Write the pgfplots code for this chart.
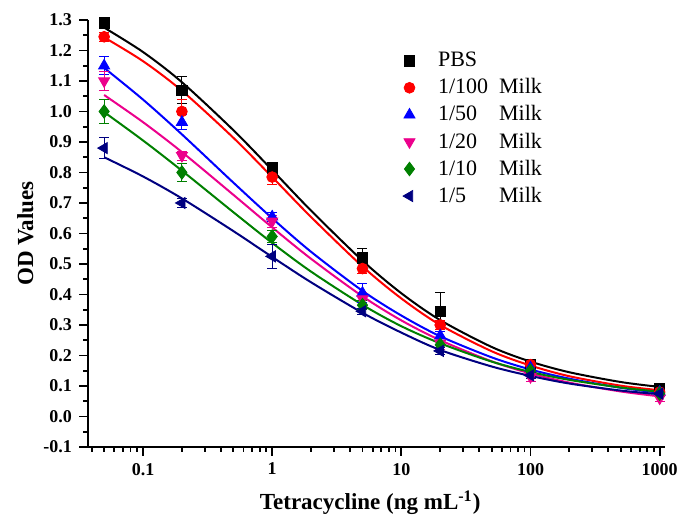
\documentclass[border=0pt]{standalone}
\usepackage{pgfplots}
\pgfplotsset{compat=1.18}
\usepackage{fontspec}
\setmainfont{Liberation Serif}
\definecolor{cgreen}{RGB}{0,128,0}
\definecolor{cnavy}{RGB}{0,0,128}
\begin{document}
\begin{tikzpicture}
\useasboundingbox (-44pt,-37.5pt) rectangle (296pt,223.5pt);
\begin{axis}[
  at={(0,0)}, anchor=south west,
  scale only axis,
  width=288.5pt, height=213.5pt,
  xmode=log,
  xmin=0.0375, xmax=1100,
  ymin=-0.1, ymax=1.3,
  axis lines*=left,
  axis line style={line width=1.2pt},
  tick style={line width=0.9pt, black},
  tick align=outside,
  major tick length=4.5pt,
  minor tick length=2.5pt,
  xtick={0.1,1,10,100,1000},
  xticklabels={0.1,1,10,100,1000},
  minor xtick={0.04,0.05,0.06,0.07,0.08,0.09,0.2,0.3,0.4,0.5,0.6,0.7,0.8,0.9,2,3,4,5,6,7,8,9,20,30,40,50,60,70,80,90,200,300,400,500,600,700,800,900},
  ytick={-0.1,0,...,1.3},
  minor ytick={-0.05,0.05,...,1.25},
  yticklabel style={/pgf/number format/.cd, fixed, fixed zerofill, precision=1},
  /pgf/number format/assume math mode=true,
  ticklabel style={font=\fontsize{9}{11}\selectfont\bfseries},
  xlabel={\textbf{Tetracycline (ng mL\textsuperscript{-1})}},
  ylabel={\textbf{OD Values}},
  label style={font=\fontsize{11.5}{13}\selectfont},
  xlabel style={at={(axis description cs:0.489,-0.1475)}, anchor=base},
  ylabel style={at={(axis description cs:-0.0953,0.5)}, anchor=base},
  legend style={draw=none, fill=none, at={(0.535,0.944)}, anchor=north west,
    font=\fontsize{11}{13}\selectfont, row sep=0.4pt},
  legend cell align=left,
  error bars/error bar style={line width=0.5pt},
  error bars/error mark options={rotate=90, mark size=2.5pt, line width=0.5pt},
]
% fitted curves
\addplot[black, line width=1pt, smooth, forget plot] coordinates {
(0.05,1.275)(0.1,1.195)(0.2,1.096)(0.5,0.939)(1,0.808)(2,0.675)(5,0.511)(10,0.404)(20,0.316)(50,0.228)(100,0.180)(200,0.145)(500,0.113)(1000,0.097)};
\addplot[red, line width=1pt, smooth, forget plot] coordinates {
(0.05,1.243)(0.1,1.165)(0.2,1.068)(0.5,0.914)(1,0.785)(2,0.654)(5,0.492)(10,0.387)(20,0.300)(50,0.214)(100,0.167)(200,0.132)(500,0.101)(1000,0.086)};
\addplot[blue, line width=1pt, smooth, forget plot] coordinates {
(0.05,1.143)(0.1,1.039)(0.2,0.925)(0.5,0.767)(1,0.650)(2,0.540)(5,0.412)(10,0.331)(20,0.263)(50,0.194)(100,0.154)(200,0.124)(500,0.094)(1000,0.078)};
\addplot[magenta, line width=1pt, smooth, forget plot] coordinates {
(0.05,1.054)(0.1,0.965)(0.2,0.867)(0.5,0.727)(1,0.620)(2,0.517)(5,0.394)(10,0.315)(20,0.250)(50,0.181)(100,0.141)(200,0.111)(500,0.082)(1000,0.066)};
\addplot[cgreen, line width=1pt, smooth, forget plot] coordinates {
(0.05,0.998)(0.1,0.905)(0.2,0.806)(0.5,0.670)(1,0.569)(2,0.475)(5,0.366)(10,0.296)(20,0.240)(50,0.180)(100,0.146)(200,0.120)(500,0.095)(1000,0.081)};
\addplot[cnavy, line width=1pt, smooth, forget plot] coordinates {
(0.05,0.850)(0.1,0.787)(0.2,0.715)(0.5,0.608)(1,0.523)(2,0.440)(5,0.340)(10,0.275)(20,0.218)(50,0.164)(100,0.133)(200,0.108)(500,0.085)(1000,0.073)};
% measured points
\addplot[black, only marks, mark=square*, mark size=2.6pt,
  error bars/.cd, y dir=both, y explicit] table[y error index=2] {
x y e
0.05 1.29 0.01
0.2 1.07 0.045
1 0.815 0.015
5 0.52 0.03
20 0.345 0.06
100 0.17 0.01
1000 0.09 0.012
};
\addlegendentry{\hspace{9.5pt}PBS}
\addplot[red, only marks, mark=*, mark size=2.7pt,
  error bars/.cd, y dir=both, y explicit] table[y error index=2] {
x y e
0.05 1.245 0.015
0.2 1.0 0.04
1 0.785 0.025
5 0.485 0.015
20 0.30 0.015
100 0.17 0.01
1000 0.08 0.01
};
\addlegendentry{\hspace{9.5pt}1/100\hspace{5.5pt}Milk}
\addplot[blue, only marks, mark=triangle*, mark size=3.2pt,
  error bars/.cd, y dir=both, y explicit] table[y error index=2] {
x y e
0.05 1.15 0.03
0.2 0.965 0.025
1 0.655 0.015
5 0.405 0.03
20 0.265 0.015
100 0.16 0.01
1000 0.08 0.01
};
\addlegendentry{\hspace{9.5pt}1/50\hphantom{0}\hspace{5.5pt}Milk}
\addplot[magenta, only marks, mark=triangle*, mark options={rotate=180}, mark size=3.2pt,
  error bars/.cd, y dir=both, y explicit] table[y error index=2] {
x y e
0.05 1.10 0.03
0.2 0.855 0.015
1 0.64 0.02
5 0.385 0.02
20 0.24 0.02
100 0.13 0.015
1000 0.06 0.012
};
\addlegendentry{\hspace{9.5pt}1/20\hphantom{0}\hspace{5.5pt}Milk}
\addplot[cgreen, only marks, mark=diamond*, mark size=3.4pt,
  error bars/.cd, y dir=both, y explicit] table[y error index=2] {
x y e
0.05 1.00 0.04
0.2 0.80 0.03
1 0.59 0.02
5 0.365 0.015
20 0.235 0.01
100 0.15 0.01
1000 0.075 0.01
};
\addlegendentry{\hspace{9.5pt}1/10\hphantom{0}\hspace{5.5pt}Milk}
\addplot[cnavy, only marks, mark=triangle*, mark options={rotate=90}, mark size=3.2pt,
  error bars/.cd, y dir=both, y explicit] table[y error index=2] {
x y e
0.05 0.88 0.035
0.2 0.70 0.015
1 0.525 0.04
5 0.345 0.01
20 0.215 0.012
100 0.135 0.01
1000 0.075 0.01
};
\addlegendentry{\hspace{9.5pt}1/5\hphantom{00}\hspace{5.5pt}Milk}
\end{axis}
\end{tikzpicture}
\end{document}
